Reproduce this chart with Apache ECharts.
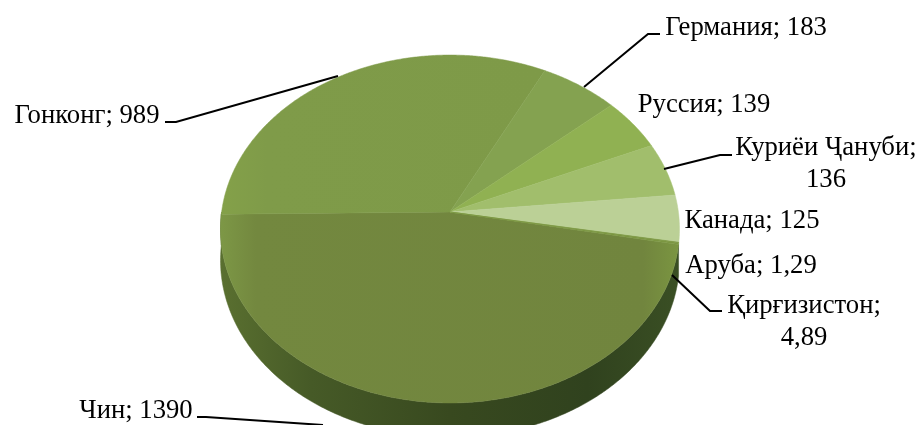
<!DOCTYPE html>
<html><head><meta charset="utf-8">
<style>html,body{margin:0;padding:0;background:#fff}#c{width:921px;height:425px}</style>
<script src="https://cdn.jsdelivr.net/npm/echarts@6/dist/echarts.min.js"></script>
</head><body><div id="c"></div>
<script>
// Data
const categories = ['Чин','Гонконг','Германия','Руссия','Куриёи Ҷануби','Канада','Аруба','Қирғизистон'];
const values = [1390,989,183,139,136,125,1.29,4.89];
// Styling / layout (separate from the data)
const chinFill = {type:'linear',x:219,y:0,x2:680,y2:0,global:true,colorStops:[
  {offset:0,color:'#7d9846'},{offset:0.08,color:'#73883f'},{offset:0.92,color:'#71853e'},{offset:1,color:'#7b9641'}]};
const hkFill = {type:'linear',x:219,y:0,x2:540,y2:0,global:true,colorStops:[
  {offset:0,color:'#84a149'},{offset:0.15,color:'#7f9b49'},{offset:1,color:'#7e9a48'}]};
const topFills = [chinFill,hkFill,'#84a250','#90b152','#a1be6c','#bbd096','#7b9641','#7b9641'];
const labelBreak = [false,false,false,false,true,false,false,true];
const labelAnchor = [[136,411],[87,116],[746,28],[704,105],[826,164],[752,221],[751,266],[804,322]];
const leaders = [
  [[197,417],[206,417],[323,425]],
  [[165,122],[176,122],[338,76]],
  [[584,87],[648,34],[660,34]],
  null,
  [[664,169],[720,155],[732,155]],
  null,null,
  [[672,275],[710,311],[722,311]]
];
const P = {cx:450, cy:212, R:228.4, H:172.3, k:0.0977, depth:31, startDeg:100.7, warp:2.8};
const total = values.reduce((a,b)=>a+b,0);
const starts = []; { let s=P.startDeg; values.forEach(v=>{starts.push(s); s+=v/total*360;}); }
function rim(deg, dz){
  const d=((deg%360)+360)%360;
  const adj=(d>0&&d<90)?-P.warp*Math.sin(2*d*Math.PI/180):0;
  const t=(deg+adj)*Math.PI/180, u=Math.sin(t), v=Math.cos(t), w=1+P.k*v;
  return [P.cx+P.R*u/w, P.cy-P.H*v/w+(dz||0)/w];
}
function arc(a,b,dz){ const pts=[], n=Math.max(2,Math.ceil((b-a)*2)); for(let i=0;i<=n;i++) pts.push(rim(a+(b-a)*i/n,dz)); return pts; }
const sideFill = {type:'linear',x:219,y:0,x2:680,y2:0,global:true,colorStops:[
  {offset:0,color:'#5a7030'},{offset:0.2,color:'#465a27'},{offset:0.5,color:'#38491f'},{offset:0.8,color:'#30421e'},{offset:1,color:'#3a4f24'}]};
function fmt(v){ return String(v).replace('.',','); }
function renderItem(params, api){
  const i=params.dataIndex, val=api.value(0), a=starts[i], b=a+val/total*360, kids=[];
  const lo=Math.max(a,90), hi=Math.min(b,270);
  if(hi>lo){
    const top=arc(lo,hi,0), bot=arc(lo,hi,P.depth).reverse();
    kids.push({type:'polygon',z2:1,shape:{points:top.concat(bot)},style:{fill:sideFill,stroke:sideFill,lineWidth:0.5}});
  }
  const pts=[[P.cx,P.cy]].concat(arc(a,b,0));
  const fill=topFills[i];
  kids.push({type:'polygon',z2:5,shape:{points:pts},style:{fill:fill,stroke:fill,lineWidth:0.5}});
  if(leaders[i]) kids.push({type:'polyline',z2:8,shape:{points:leaders[i]},style:{stroke:'#000',lineWidth:2,fill:'none'}});
  const sep=labelBreak[i]?';\n':'; ';
  kids.push({type:'text',z2:10,x:labelAnchor[i][0],y:labelAnchor[i][1],style:{
    text:categories[i]+sep+fmt(val),align:'center',verticalAlign:'middle',
    font:'26.7px "Liberation Serif"',lineHeight:32,fill:'#000'}});
  return {type:'group',children:kids};
}
const chart=echarts.init(document.getElementById('c'),null,{renderer:'canvas'});
chart.setOption({animation:false,backgroundColor:'#fff',
  series:[{type:'custom',coordinateSystem:'none',silent:true,clip:false,renderItem,
    data:values.map((v,i)=>({name:categories[i],value:[v]}))}]});
</script></body></html>
